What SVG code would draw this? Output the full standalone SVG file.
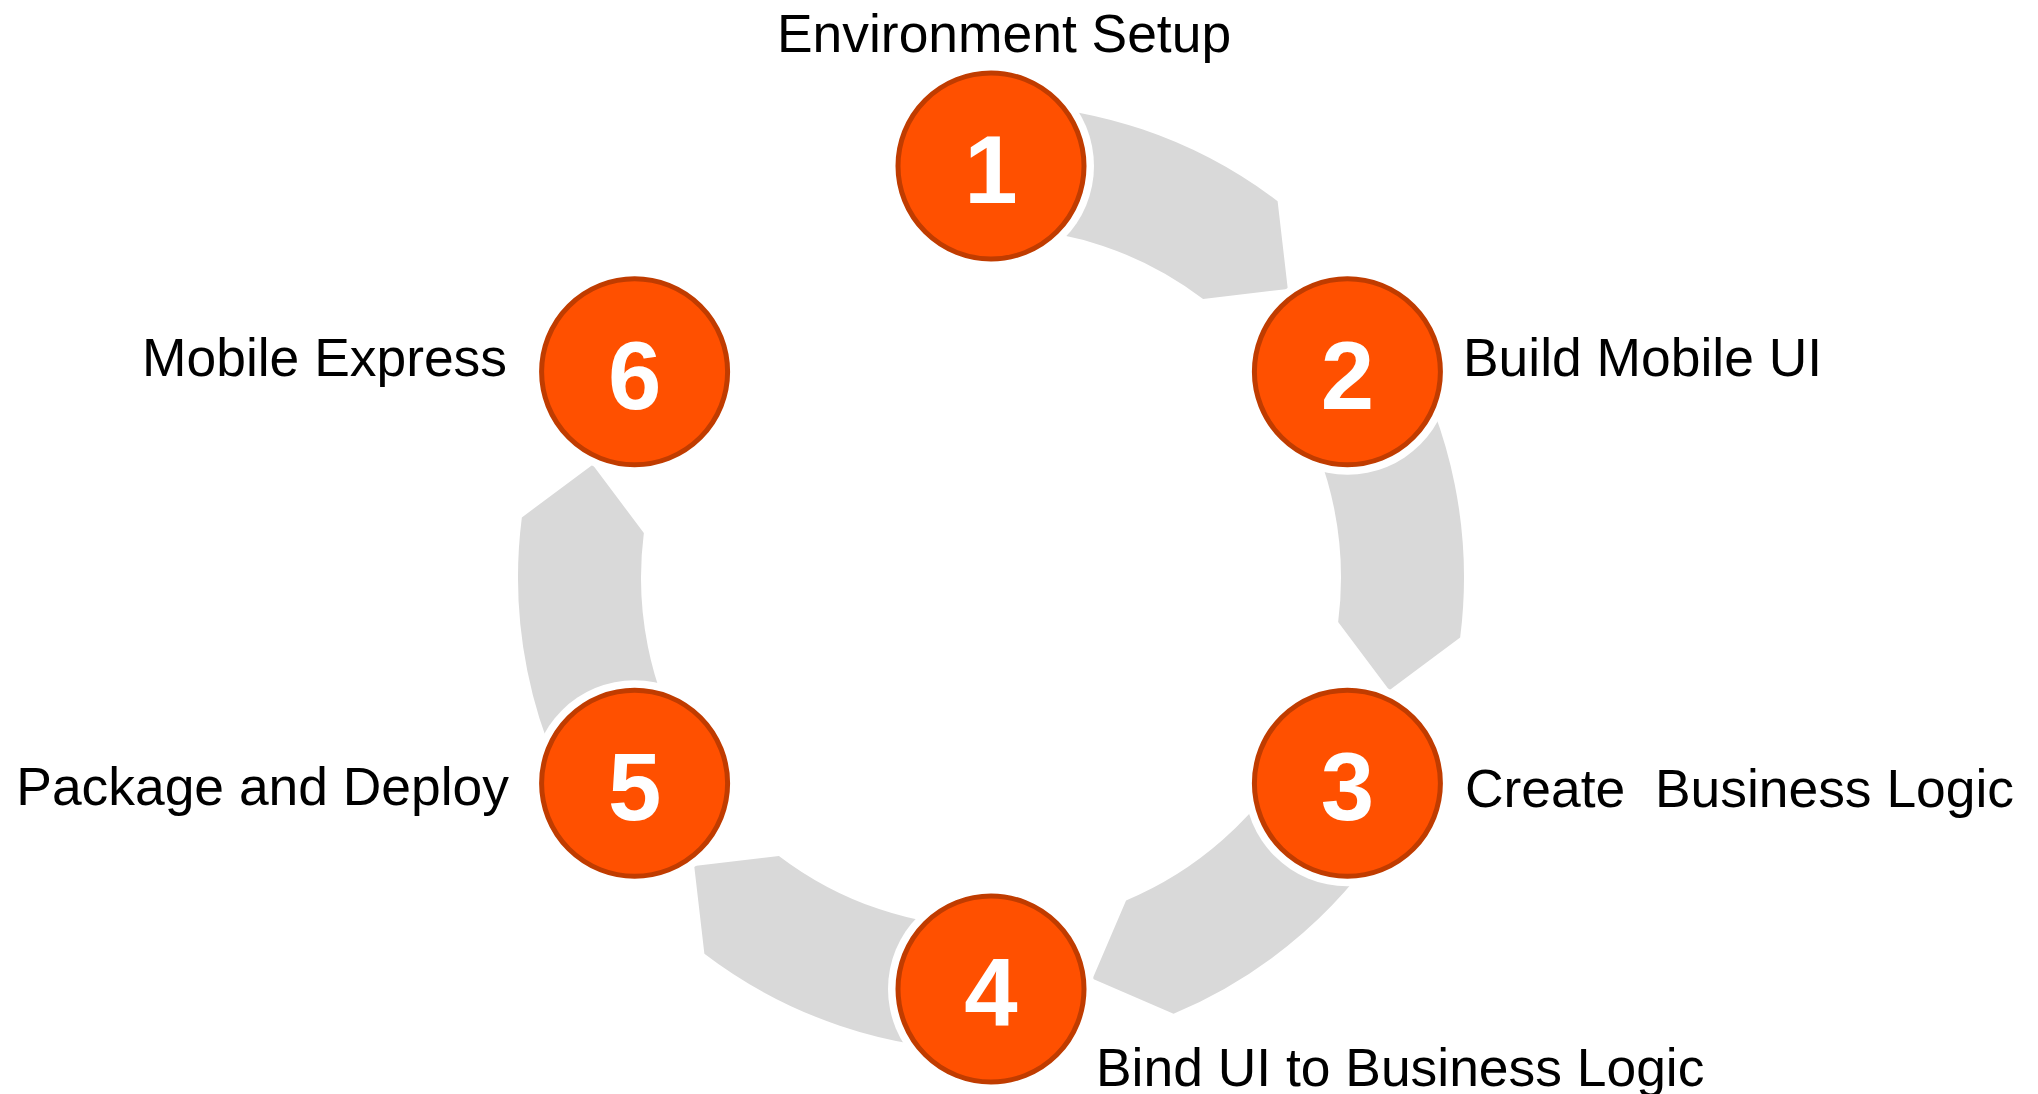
<svg xmlns="http://www.w3.org/2000/svg" xmlns:xlink="http://www.w3.org/1999/xlink" width="2038" height="1094" viewBox="0 0 2038 1094">
<style>
.arrow{fill:#D9D9D9;stroke:none}
.halo{fill:#FFFFFF}
.disc{fill:#FF5000;stroke:#C03C00;stroke-width:5}
.num{font-family:"Liberation Sans",Arial,sans-serif;font-weight:bold;font-size:96px;fill:#FFFFFF;text-anchor:middle}
.lbl{font-family:"Liberation Sans",Arial,sans-serif;font-size:53.4px;fill:#000000;white-space:pre}
</style>
<defs>
<path id="arc-arrow" class="arrow" d="M991,104.5 A473,473 0 0 1 1277.62,201.25 L1287.79,288.88 L1203.09,299.09 A350,350 0 0 0 991,227.5 Z"/>
</defs>
<rect width="2038" height="1094" fill="#FFFFFF"/>
<g id="connectors">
<use xlink:href="#arc-arrow" href="#arc-arrow"/>
<use xlink:href="#arc-arrow" href="#arc-arrow" transform="rotate(60 991 577.5)"/>
<use xlink:href="#arc-arrow" href="#arc-arrow" transform="rotate(120 991 577.5)"/>
<use xlink:href="#arc-arrow" href="#arc-arrow" transform="rotate(180 991 577.5)"/>
<use xlink:href="#arc-arrow" href="#arc-arrow" transform="rotate(240 991 577.5)"/>
</g>
<g id="node1">
<circle class="halo" cx="991" cy="166" r="103"/>
<circle class="disc" cx="991" cy="166" r="93"/>
<text class="num" x="991" y="203">1</text>
<text class="lbl" x="777" y="52">Environment Setup</text>
</g>
<g id="node2">
<circle class="halo" cx="1347.4" cy="371.75" r="103"/>
<circle class="disc" cx="1347.4" cy="371.75" r="93"/>
<text class="num" x="1347.4" y="408.5">2</text>
<text class="lbl" x="1463" y="376">Build Mobile UI</text>
</g>
<g id="node3">
<circle class="halo" cx="1347.4" cy="783.25" r="103"/>
<circle class="disc" cx="1347.4" cy="783.25" r="93"/>
<text class="num" x="1347.4" y="820">3</text>
<text class="lbl" x="1465" y="807" xml:space="preserve">Create  Business Logic</text>
</g>
<g id="node4">
<circle class="halo" cx="991" cy="989" r="103"/>
<circle class="disc" cx="991" cy="989" r="93"/>
<text class="num" x="991" y="1026">4</text>
<text class="lbl" x="1096" y="1086">Bind UI to Business Logic</text>
</g>
<g id="node5">
<circle class="halo" cx="634.6" cy="783.25" r="103"/>
<circle class="disc" cx="634.6" cy="783.25" r="93"/>
<text class="num" x="634.6" y="820">5</text>
<text class="lbl" x="509" y="805" text-anchor="end">Package and Deploy</text>
</g>
<g id="node6">
<circle class="halo" cx="634.6" cy="371.75" r="103"/>
<circle class="disc" cx="634.6" cy="371.75" r="93"/>
<text class="num" x="634.6" y="408.5">6</text>
<text class="lbl" x="507" y="376" text-anchor="end">Mobile Express</text>
</g>
</svg>
